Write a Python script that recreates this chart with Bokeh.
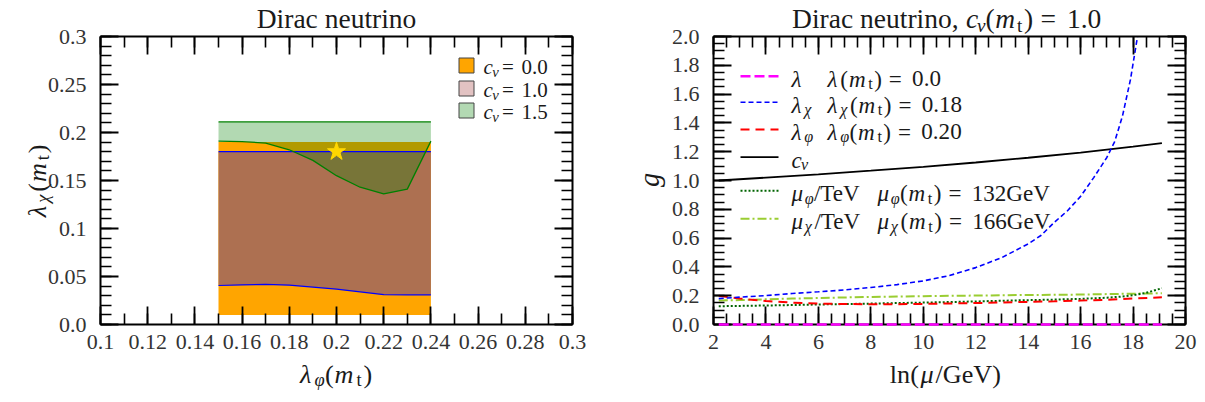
import numpy as np
from bokeh.plotting import figure
from bokeh.models import Label, FixedTicker, LinearAxis, Range1d, CustomJSTickFormatter
from bokeh.layouts import row
from bokeh.embed import file_html
from bokeh.resources import INLINE

# ---------------- left panel data: allowed regions in (lambda_phi, lambda_chi) ----------------
lam_phi = [0.15, 0.16, 0.17, 0.18, 0.19, 0.20, 0.21, 0.22, 0.23, 0.24]
c00_lower = [0.010, 0.010, 0.010, 0.010, 0.010, 0.010, 0.010, 0.010, 0.010, 0.010]
c00_upper = [0.190, 0.190, 0.190, 0.190, 0.190, 0.190, 0.190, 0.190, 0.190, 0.190]
c10_lower = [0.0406, 0.0412, 0.0417, 0.0410, 0.0390, 0.0368, 0.0340, 0.0312, 0.0309, 0.0309]
c10_upper = [0.180, 0.180, 0.180, 0.180, 0.180, 0.180, 0.180, 0.180, 0.180, 0.180]
c15_lower = [0.191, 0.1905, 0.189, 0.182, 0.171, 0.155, 0.143, 0.136, 0.141, 0.191]
c15_upper = [0.211, 0.211, 0.211, 0.211, 0.211, 0.211, 0.211, 0.211, 0.211, 0.211]
star_x = [0.20]
star_y = [0.18]

left_x_ticks = [0.1, 0.12, 0.14, 0.16, 0.18, 0.2, 0.22, 0.24, 0.26, 0.28, 0.3]
left_x_labels = ["0.1", "0.12", "0.14", "0.16", "0.18", "0.2", "0.22", "0.24", "0.26", "0.28", "0.3"]
left_y_ticks = [0.0, 0.05, 0.1, 0.15, 0.2, 0.25, 0.3]
left_y_labels = ["0.0", "0.05", "0.1", "0.15", "0.2", "0.25", "0.3"]

# ---------------- right panel data: running couplings vs ln(mu/GeV) ----------------
ln_mu = [2.2, 3, 4, 5, 6, 7, 8, 9, 10, 11, 12, 13, 14, 15, 16, 17, 18, 19.1]
lam = [0.0, 0.0, 0.0, 0.0, 0.0, 0.0, 0.0, 0.0, 0.0, 0.0, 0.0, 0.0, 0.0, 0.0, 0.0, 0.0, 0.0, 0.0]
lam_phi_run = [0.200, 0.180, 0.163, 0.152, 0.145, 0.142, 0.141, 0.141, 0.143, 0.146, 0.149, 0.153,
               0.157, 0.161, 0.166, 0.172, 0.180, 0.189]
mu_chi_run = [0.166, 0.170, 0.175, 0.180, 0.184, 0.188, 0.191, 0.194, 0.197, 0.199, 0.201, 0.203,
              0.205, 0.206, 0.208, 0.211, 0.214, 0.217]

ln_mu_chi = [2.2, 3, 4, 5, 6, 7, 8, 9, 10, 11, 12, 13, 14, 14.5, 15, 15.5, 16, 16.5, 17, 17.3,
             17.6, 17.9, 18.17]
lam_chi_run = [0.180, 0.190, 0.201, 0.215, 0.227, 0.240, 0.257, 0.277, 0.303, 0.340, 0.395, 0.465,
               0.560, 0.620, 0.710, 0.790, 0.890, 1.020, 1.160, 1.270, 1.450, 1.700, 2.000]

ln_mu_c = [2.2, 4, 6, 8, 10, 12, 14, 16, 18, 19.1]
c_nu_run = [1.000, 1.020, 1.043, 1.068, 1.095, 1.125, 1.158, 1.193, 1.235, 1.260]

ln_mu_phi = [2.2, 3, 4, 5, 6, 7, 8, 9, 10, 11, 12, 13, 14, 15, 16, 17, 17.5, 18, 18.5, 19.1]
mu_phi_run = [0.127, 0.129, 0.132, 0.135, 0.139, 0.142, 0.145, 0.149, 0.152, 0.156, 0.160, 0.165,
              0.169, 0.173, 0.178, 0.186, 0.193, 0.203, 0.220, 0.252]

right_x_ticks = [2, 4, 6, 8, 10, 12, 14, 16, 18, 20]
right_x_labels = ["2", "4", "6", "8", "10", "12", "14", "16", "18", "20"]
right_y_ticks = [0.0, 0.2, 0.4, 0.6, 0.8, 1.0, 1.2, 1.4, 1.6, 1.8, 2.0]
right_y_labels = ["0.0", "0.2", "0.4", "0.6", "0.8", "1.0", "1.2", "1.4", "1.6", "1.8", "2.0"]

# ---------------- styling / layout ----------------
FONT = "Liberation Serif"
TXT = "#1a1a1a"
TICK_TXT = "#333333"

CMR = {'0': .5, '1': .5, '2': .5, '3': .5, '4': .5, '5': .5, '6': .5, '7': .5, '8': .5, '9': .5,
       '.': .278, ',': .278, '(': .389, ')': .389, '=': .778, '/': .5, ' ': .333,
       'D': .764, 'i': .278, 'r': .392, 'a': .5, 'c': .444, 'n': .556, 'e': .444, 'u': .556,
       't': .389, 'o': .5, 'l': .278, 'T': .722, 'V': .75, 'G': .785, 'g': .5}
CMI = {'m': .878, 'c': .433, 'g': .477, 'λ': .583, 'μ': .603, 'φ': .596, 'χ': .626, 'ν': .485}

BOX_W, BOX_H = 472.0, 288.0
L_LEFT, R_LEFT, TOP = 100.0, 713.0, 36.0
FIG_H = 400
L_CANVAS = (0.0, 608.0)
R_CANVAS = (608.0, 1197.0)


def tf_left(px, py):
    return 0.1 + (px - L_LEFT) / BOX_W * 0.2, (TOP + BOX_H - py) / BOX_H * 0.3


def tf_right(px, py):
    return 2.0 + (px - R_LEFT) / BOX_W * 18.0, (TOP + BOX_H - py) / BOX_H * 2.0


def ranges(tf, canvas):
    x0, y0 = tf(canvas[0], FIG_H)
    x1, y1 = tf(canvas[1], 0.0)
    return Range1d(x0, x1), Range1d(y0, y1)


def I(t, sub=0):
    return (t, "i", sub)


def R(t, sub=0):
    return (t, "r", sub)


def G(w):
    return (w, "gap", 0)


GAP = G(0.278)
EQ = [GAP, R("="), GAP]
MT = [R("("), I("m"), R("t", 1), R(")")]


def add_math(fig, tf, x, y, pieces, size, align="left", vertical=False, color=TXT, scale=1.05):
    ws = []
    for txt, st, sub in pieces:
        s = size * (0.7 if sub else 1.0)
        if st == "gap":
            ws.append(txt * size)
        else:
            tbl = CMI if st == "i" else CMR
            ws.append(sum(tbl.get(ch, 0.5) for ch in txt) * s)
    pos = -sum(ws) / 2.0 if align == "center" else 0.0
    for (txt, st, sub), w in zip(pieces, ws):
        if st != "gap":
            s = size * (0.7 if sub else 1.0)
            drop = 0.17 * size if sub else 0.0
            corr = 0.24 * s * scale   # renderer places the alphabetic baseline a bit low
            if vertical:
                px, py = x + drop - corr, y - pos
            else:
                px, py = x + pos, y + drop - corr
            xd, yd = tf(px, py)
            fig.add_layout(Label(x=xd, y=yd, text=txt, angle=(np.pi / 2 if vertical else 0.0),
                                 text_align="left", text_baseline="alphabetic", text_font=FONT,
                                 text_font_style=("italic" if st == "i" else "normal"),
                                 text_font_size=f"{s * scale:.1f}px", text_color=color))
        pos += w


def label_formatter(ticks, labels):
    return CustomJSTickFormatter(args=dict(tv=list(ticks), tl=list(labels)), code="""
        for (let i = 0; i < tv.length; i++) {
            if (Math.abs(tv[i] - tick) < 1e-9) { return tl[i]; }
        }
        return '';
    """)


def add_axes(p, xt, xl, xminor, yt, yl, yminor, xb, yb, xstand, ystand):
    common = dict(major_tick_in=18, major_tick_out=0, minor_tick_in=11, minor_tick_out=0,
                  major_tick_line_width=1.8, minor_tick_line_width=1.6,
                  axis_line_width=2, axis_line_color="black",
                  major_tick_line_color="black", minor_tick_line_color="black",
                  major_label_text_font=FONT, major_label_text_font_size="22px",
                  major_label_text_color=TICK_TXT)
    p.add_layout(LinearAxis(ticker=FixedTicker(ticks=xt, minor_ticks=xminor), bounds=xb, fixed_location=yb[0],
                            formatter=label_formatter(xt, xl), major_label_standoff=xstand, **common), "below")
    p.add_layout(LinearAxis(ticker=FixedTicker(ticks=xt, minor_ticks=xminor), bounds=xb, fixed_location=yb[1],
                            formatter=CustomJSTickFormatter(code="return '';"), major_label_standoff=0,
                            **common), "above")
    p.add_layout(LinearAxis(ticker=FixedTicker(ticks=yt, minor_ticks=yminor), bounds=yb, fixed_location=xb[0],
                            formatter=label_formatter(yt, yl), major_label_standoff=ystand, **common), "left")
    p.add_layout(LinearAxis(ticker=FixedTicker(ticks=yt, minor_ticks=yminor), bounds=yb, fixed_location=xb[1],
                            formatter=CustomJSTickFormatter(code="return '';"), major_label_standoff=0,
                            **common), "right")


def make_fig(tf, canvas):
    xr, yr = ranges(tf, canvas)
    p = figure(width=int(canvas[1] - canvas[0]), height=FIG_H, min_border=0, x_range=xr, y_range=yr,
               x_axis_type=None, y_axis_type=None, output_backend="svg", toolbar_location=None)
    p.outline_line_color = None
    return p


# =============================== left panel ===============================
p1 = make_fig(tf_left, L_CANVAS)

p1.varea(x=lam_phi, y1=c00_lower, y2=c00_upper, fill_color="#ffa500")
p1.varea(x=lam_phi, y1=c10_lower, y2=c10_upper, fill_color="#ad7051")
p1.varea(x=lam_phi, y1=c15_lower, y2=c15_upper, fill_color="green", fill_alpha=0.3)
p1.line(lam_phi, c10_lower, line_color="blue", line_width=1.2)
p1.line(lam_phi, c10_upper, line_color="blue", line_width=1.2)
p1.line(lam_phi, c15_lower, line_color="green", line_width=1.3)
p1.line(lam_phi, c15_upper, line_color="green", line_width=1.3)
p1.scatter(star_x, star_y, marker="star", size=19, fill_color="#ffd700", line_color="#ffd700")

add_axes(p1, left_x_ticks, left_x_labels, np.round(np.arange(0.1, 0.3001, 0.01), 4).tolist(),
         left_y_ticks, left_y_labels, np.round(np.arange(0.0, 0.3001, 0.01), 4).tolist(),
         (0.1, 0.3), (0.0, 0.3), 10, 14)

# legend (manual, for math text)
leg_swatch = ["#ffa500", "#e2c2c2", "#b3d9b3"]
leg_vals = ["0.0", "1.0", "1.5"]
leg_rows_px = [65.0, 88.0, 110.0]
sw = [tf_left(466.0, yy) for yy in leg_rows_px]
p1.scatter([s[0] for s in sw], [s[1] for s in sw], marker="square", size=15,
           fill_color=leg_swatch, line_color="#444444", line_width=1)
for yy, v in zip(leg_rows_px, leg_vals):
    add_math(p1, tf_left, 483.0, yy + 7.0, [I("c"), I("ν", 1), G(0.15), R("="), G(0.2), R(v)], 20)

# titles and axis labels
add_math(p1, tf_left, 336.0, 25.0, [R("Dirac neutrino")], 25, align="center", scale=1.1)
add_math(p1, tf_left, 336.0, 380.0, [I("λ"), I("φ", 1)] + MT, 25, align="center")
add_math(p1, tf_left, 43.0, 180.0, [I("λ"), I("χ", 1)] + MT, 25, align="center", vertical=True)

# =============================== right panel ===============================
p2 = make_fig(tf_right, R_CANVAS)

st_lam = dict(line_color="#ff00ff", line_dash="10 4", line_width=2.5)
st_chi = dict(line_color="#0000ff", line_dash="5 3", line_width=1.6)
st_phi = dict(line_color="#ff0000", line_dash="9 6", line_width=2.0)
st_cnu = dict(line_color="black", line_width=1.8)
st_mphi = dict(line_color="#006400", line_dash="2 2", line_width=2.0)
st_mchi = dict(line_color="#9acd32", line_dash="9 3 2 3", line_width=2.0)

p2.line(ln_mu, mu_chi_run, **st_mchi)
p2.line(ln_mu_phi, mu_phi_run, **st_mphi)
p2.line(ln_mu, lam_phi_run, **st_phi)
p2.line(ln_mu_c, c_nu_run, **st_cnu)
p2.line(ln_mu_chi, lam_chi_run, **st_chi)
p2.line(ln_mu, lam, level="annotation", **st_lam)

add_axes(p2, right_x_ticks, right_x_labels, np.arange(2.0, 20.01, 0.5).tolist(),
         right_y_ticks, right_y_labels, np.round(np.arange(0.0, 2.001, 0.05), 3).tolist(),
         (2.0, 20.0), (0.0, 2.0), 10, 14)

# legend (manual)
rows = [
    (75.7, st_lam, [I("λ")], [I("λ")] + MT + EQ + [R("0.0")], 827.0),
    (101.7, st_chi, [I("λ"), I("χ", 1)], [I("λ"), I("χ", 1)] + MT + EQ + [R("0.18")], 827.0),
    (129.0, st_phi, [I("λ"), I("φ", 1)], [I("λ"), I("φ", 1)] + MT + EQ + [R("0.20")], 827.0),
    (156.7, st_cnu, [I("c"), I("ν", 1)], None, None),
    (190.3, st_mphi, [I("μ"), I("φ", 1), R("/TeV")], [I("μ"), I("φ", 1)] + MT + EQ + [R("132GeV")], 877.0),
    (218.3, st_mchi, [I("μ"), I("χ", 1), R("/TeV")], [I("μ"), I("χ", 1)] + MT + EQ + [R("166GeV")], 877.0),
]
for yy, st, col1, col2, x2 in rows:
    a = tf_right(740.0, yy)
    b = tf_right(778.0, yy)
    p2.line([a[0], b[0]], [a[1], b[1]], **st)
    add_math(p2, tf_right, 791.0, yy + 8.0, col1, 22)
    if col2 is not None:
        add_math(p2, tf_right, x2, yy + 8.0, col2, 22)

add_math(p2, tf_right, 945.0, 25.0, [R("Dirac neutrino,"), G(0.3), I("c"), I("ν", 1)] + MT + EQ + [R("1.0")],
         25, align="center", scale=1.1)
add_math(p2, tf_right, 948.0, 380.0, [R("ln("), I("μ"), R("/GeV)")], 25, align="center")
add_math(p2, tf_right, 656.0, 180.0, [I("g")], 27, align="center", vertical=True)

layout = row(p1, p2)
open("out.html", "w").write(file_html(layout, INLINE))
